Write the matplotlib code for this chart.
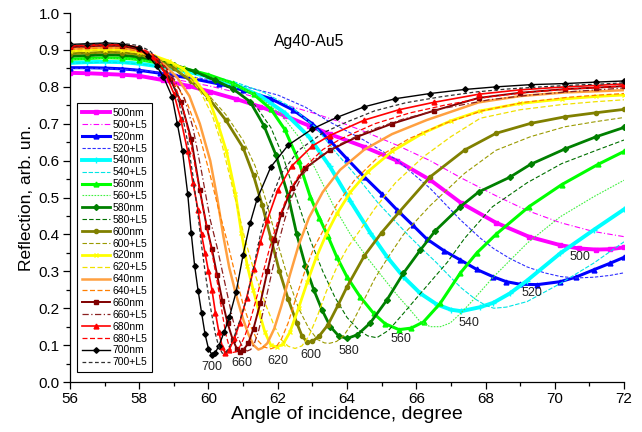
import matplotlib
matplotlib.use("Agg")
import matplotlib.pyplot as plt
from matplotlib.ticker import MultipleLocator, FormatStrFormatter

plt.rcParams['font.family'] = ['Liberation Sans', 'DejaVu Sans']

# ---------------- data ----------------
a500 = [56.0, 56.5, 57.0, 57.5, 58.0, 58.7, 59.4, 60.05, 60.8, 61.5, 62.2, 62.9, 63.5, 64.48, 65.44, 66.4, 67.3, 68.3, 69.25, 70.16, 70.7, 71.2, 71.6, 72.0]
r500 = [0.838, 0.837, 0.835, 0.833, 0.830, 0.818, 0.803, 0.787, 0.767, 0.746, 0.722, 0.695, 0.672, 0.638, 0.600, 0.548, 0.485, 0.432, 0.394, 0.371, 0.362, 0.359, 0.360, 0.365]
a500L = [56.0, 57.0, 58.0, 59.0, 60.0, 61.0, 62.0, 63.0, 63.7, 64.48, 65.44, 66.4, 67.3, 68.3, 69.2, 70.16, 71.12, 72.0]
r500L = [0.837, 0.835, 0.831, 0.821, 0.803, 0.781, 0.757, 0.730, 0.708, 0.680, 0.642, 0.600, 0.553, 0.505, 0.465, 0.432, 0.408, 0.394]

a520 = [56.0, 56.5, 57.0, 57.5, 58.0, 58.6, 59.5, 60.3, 61.0, 61.8, 62.45, 63.0, 63.5, 64.0, 64.5, 65.0, 65.45, 65.9, 66.3, 66.8, 67.27, 67.75, 68.23, 68.6, 69.0, 69.5, 70.16, 70.6, 71.12, 71.6, 72.0]
r520 = [0.852, 0.852, 0.851, 0.849, 0.845, 0.837, 0.823, 0.808, 0.791, 0.768, 0.737, 0.700, 0.655, 0.605, 0.556, 0.510, 0.466, 0.425, 0.388, 0.356, 0.331, 0.305, 0.285, 0.272, 0.265, 0.264, 0.272, 0.284, 0.304, 0.322, 0.338]
a520L = [56.0, 57.0, 58.0, 59.0, 60.0, 61.0, 62.0, 62.8, 63.5, 64.48, 65.44, 66.4, 67.27, 67.85, 68.23, 68.7, 69.2, 69.7, 70.16, 70.6, 71.12, 71.6, 72.0]
r520L = [0.850, 0.850, 0.845, 0.835, 0.820, 0.802, 0.778, 0.745, 0.705, 0.656, 0.602, 0.525, 0.440, 0.390, 0.362, 0.335, 0.312, 0.296, 0.286, 0.282, 0.284, 0.289, 0.296]

a540 = [56.0, 56.5, 57.0, 57.5, 58.0, 58.6, 59.3, 60.0, 60.8, 61.5, 62.2, 62.9, 63.5, 64.1, 64.67, 65.15, 65.63, 66.12, 66.6, 67.0, 67.3, 67.85, 68.23, 68.7, 69.2, 70.16, 71.12, 72.0]
r540 = [0.865, 0.867, 0.868, 0.867, 0.863, 0.855, 0.843, 0.828, 0.805, 0.775, 0.730, 0.665, 0.585, 0.490, 0.405, 0.340, 0.285, 0.240, 0.210, 0.196, 0.192, 0.203, 0.215, 0.240, 0.275, 0.349, 0.412, 0.468]
a540L = [56.0, 57.0, 57.5, 58.0, 58.6, 59.3, 60.0, 60.8, 61.6, 62.4, 63.1, 63.7, 64.3, 64.9, 65.4, 65.8, 66.2, 66.6, 67.0, 67.3, 67.7, 68.0, 68.24, 68.6, 69.2, 70.16, 71.12, 72.0]
r540L = [0.864, 0.867, 0.866, 0.862, 0.855, 0.845, 0.832, 0.812, 0.785, 0.745, 0.690, 0.620, 0.555, 0.485, 0.435, 0.395, 0.358, 0.322, 0.283, 0.255, 0.225, 0.208, 0.200, 0.203, 0.218, 0.267, 0.322, 0.380]

a560 = [56.0, 56.5, 57.0, 57.5, 58.0, 58.6, 59.3, 60.0, 60.7, 61.3, 61.8, 62.2, 62.6, 62.94, 63.2, 63.45, 63.7, 64.0, 64.38, 64.77, 65.1, 65.5, 65.85, 66.21, 66.69, 67.27, 67.75, 68.3, 69.25, 70.2, 71.25, 72.0]
r560 = [0.875, 0.877, 0.879, 0.878, 0.874, 0.864, 0.850, 0.833, 0.810, 0.780, 0.740, 0.685, 0.600, 0.502, 0.445, 0.395, 0.340, 0.285, 0.231, 0.186, 0.158, 0.142, 0.146, 0.163, 0.213, 0.295, 0.350, 0.400, 0.475, 0.535, 0.590, 0.625]
a560L = [56.0, 57.0, 57.5, 58.0, 58.6, 59.3, 60.0, 60.8, 61.5, 62.1, 62.6, 63.1, 63.6, 64.1, 64.6, 65.15, 65.5, 65.83, 66.1, 66.4, 66.7, 66.98, 67.27, 67.6, 68.23, 69.2, 70.16, 71.12, 72.0]
r560L = [0.874, 0.878, 0.877, 0.873, 0.863, 0.848, 0.830, 0.805, 0.770, 0.725, 0.665, 0.575, 0.480, 0.400, 0.335, 0.270, 0.230, 0.195, 0.165, 0.150, 0.150, 0.160, 0.185, 0.218, 0.285, 0.376, 0.448, 0.502, 0.547]

a580 = [56.0, 56.5, 57.0, 57.5, 58.0, 58.5, 59.0, 59.6, 60.2, 60.7, 61.2, 61.6, 61.95, 62.3, 62.55, 62.8, 63.04, 63.28, 63.52, 63.76, 64.0, 64.3, 64.67, 65.15, 65.63, 66.12, 66.55, 67.27, 67.8, 68.7, 69.3, 70.3, 71.2, 72.0]
r580 = [0.883, 0.885, 0.887, 0.886, 0.881, 0.872, 0.860, 0.842, 0.818, 0.795, 0.760, 0.695, 0.615, 0.505, 0.400, 0.315, 0.250, 0.195, 0.150, 0.125, 0.118, 0.128, 0.160, 0.222, 0.295, 0.358, 0.410, 0.475, 0.515, 0.555, 0.590, 0.632, 0.665, 0.690]
a580L = [56.0, 57.0, 57.5, 58.0, 58.5, 59.0, 59.6, 60.2, 60.8, 61.35, 61.8, 62.15, 62.5, 62.94, 63.3, 63.65, 64.0, 64.35, 64.6, 64.86, 65.2, 65.63, 66.12, 66.9, 67.4, 68.2, 69.2, 70.2, 71.2, 72.0]
r580L = [0.882, 0.886, 0.885, 0.880, 0.871, 0.859, 0.840, 0.815, 0.788, 0.750, 0.690, 0.612, 0.510, 0.385, 0.300, 0.230, 0.175, 0.140, 0.125, 0.120, 0.140, 0.186, 0.240, 0.325, 0.390, 0.475, 0.540, 0.592, 0.628, 0.656]

a600 = [56.0, 56.5, 57.0, 57.5, 58.0, 58.5, 59.0, 59.5, 60.0, 60.5, 61.0, 61.3, 61.55, 61.8, 62.05, 62.3, 62.55, 62.7, 62.85, 63.0, 63.2, 63.45, 63.75, 64.0, 64.5, 65.0, 65.5, 66.4, 67.4, 68.3, 69.3, 70.3, 71.2, 72.0]
r600 = [0.890, 0.892, 0.894, 0.893, 0.888, 0.874, 0.850, 0.815, 0.770, 0.710, 0.635, 0.560, 0.480, 0.390, 0.300, 0.225, 0.160, 0.125, 0.108, 0.110, 0.125, 0.155, 0.210, 0.258, 0.342, 0.405, 0.460, 0.556, 0.629, 0.674, 0.701, 0.719, 0.730, 0.739]
a600L = [56.0, 57.0, 57.5, 58.0, 58.5, 59.0, 59.5, 60.0, 60.5, 61.0, 61.35, 61.65, 61.97, 62.3, 62.6, 62.9, 63.15, 63.35, 63.5, 63.7, 63.9, 64.15, 64.45, 64.8, 65.2, 65.63, 66.4, 67.4, 68.3, 69.3, 70.3, 71.2, 72.0]
r600L = [0.889, 0.893, 0.892, 0.886, 0.872, 0.850, 0.818, 0.778, 0.725, 0.655, 0.585, 0.495, 0.385, 0.280, 0.200, 0.145, 0.115, 0.106, 0.105, 0.110, 0.125, 0.160, 0.215, 0.280, 0.340, 0.400, 0.478, 0.566, 0.628, 0.665, 0.692, 0.706, 0.717]

a620 = [56.0, 56.5, 57.0, 57.5, 58.0, 58.4, 58.85, 59.25, 59.6, 60.0, 60.27, 60.52, 60.78, 60.95, 61.12, 61.29, 61.46, 61.63, 61.8, 61.97, 62.15, 62.35, 62.6, 62.85, 63.1, 63.4, 63.7, 64.1, 64.6, 65.3, 66.2, 67.0, 67.85, 69.0, 70.2, 71.2, 72.0]
r620 = [0.897, 0.899, 0.901, 0.900, 0.894, 0.885, 0.870, 0.850, 0.820, 0.770, 0.700, 0.625, 0.510, 0.405, 0.315, 0.250, 0.190, 0.135, 0.100, 0.095, 0.102, 0.135, 0.200, 0.270, 0.335, 0.400, 0.455, 0.515, 0.570, 0.625, 0.675, 0.708, 0.735, 0.755, 0.767, 0.774, 0.778]
a620L = [56.0, 57.0, 57.5, 58.0, 58.5, 59.0, 59.4, 59.75, 60.1, 60.4, 60.7, 61.06, 61.35, 61.65, 61.9, 62.1, 62.3, 62.5, 62.7, 62.9, 63.15, 63.4, 63.7, 64.0, 64.38, 64.8, 65.4, 66.2, 67.0, 67.85, 69.0, 70.2, 71.2, 72.0]
r620L = [0.896, 0.900, 0.899, 0.892, 0.880, 0.858, 0.830, 0.790, 0.725, 0.640, 0.525, 0.385, 0.290, 0.210, 0.152, 0.115, 0.097, 0.091, 0.098, 0.125, 0.180, 0.245, 0.310, 0.362, 0.412, 0.470, 0.540, 0.610, 0.665, 0.715, 0.738, 0.752, 0.760, 0.765]

a640 = [56.0, 56.5, 57.0, 57.5, 58.0, 58.4, 58.75, 59.1, 59.45, 59.75, 60.05, 60.25, 60.43, 60.6, 60.8, 61.0, 61.15, 61.3, 61.44, 61.55, 61.7, 61.9, 62.1, 62.35, 62.6, 62.9, 63.3, 63.8, 64.5, 65.3, 66.3, 67.8, 69.0, 70.3, 71.2, 72.0]
r640 = [0.903, 0.905, 0.907, 0.906, 0.898, 0.882, 0.858, 0.825, 0.775, 0.700, 0.600, 0.500, 0.395, 0.310, 0.235, 0.170, 0.130, 0.100, 0.088, 0.092, 0.105, 0.145, 0.205, 0.290, 0.370, 0.445, 0.515, 0.575, 0.630, 0.672, 0.710, 0.758, 0.775, 0.785, 0.788, 0.791]
a640L = [56.0, 57.0, 57.5, 58.0, 58.5, 59.0, 59.4, 59.75, 60.05, 60.3, 60.53, 60.75, 61.0, 61.2, 61.4, 61.6, 61.8, 61.95, 62.1, 62.3, 62.55, 62.8, 63.05, 63.32, 63.7, 64.2, 64.9, 65.8, 66.8, 67.9, 69.1, 70.4, 71.3, 72.0]
r640L = [0.902, 0.906, 0.905, 0.896, 0.870, 0.818, 0.752, 0.665, 0.560, 0.465, 0.385, 0.300, 0.210, 0.155, 0.115, 0.095, 0.090, 0.095, 0.115, 0.160, 0.235, 0.305, 0.365, 0.412, 0.480, 0.545, 0.610, 0.660, 0.700, 0.735, 0.758, 0.772, 0.778, 0.782]

a660 = [56.0, 56.5, 57.0, 57.5, 58.0, 58.5, 58.9, 59.2, 59.5, 59.75, 59.95, 60.1, 60.25, 60.4, 60.55, 60.7, 60.82, 60.91, 61.0, 61.15, 61.3, 61.5, 61.7, 61.9, 62.1, 62.4, 62.8, 63.5, 64.3, 65.3, 66.5, 67.8, 69.0, 70.3, 71.2, 72.0]
r660 = [0.908, 0.910, 0.912, 0.911, 0.902, 0.870, 0.820, 0.760, 0.660, 0.520, 0.420, 0.360, 0.290, 0.220, 0.160, 0.115, 0.090, 0.082, 0.086, 0.105, 0.145, 0.215, 0.300, 0.385, 0.455, 0.525, 0.580, 0.628, 0.665, 0.700, 0.735, 0.770, 0.784, 0.794, 0.798, 0.802]
a660L = [56.0, 57.0, 57.5, 58.0, 58.5, 58.9, 59.3, 59.55, 59.8, 60.05, 60.25, 60.4, 60.55, 60.7, 60.85, 61.0, 61.12, 61.22, 61.32, 61.45, 61.6, 61.8, 62.0, 62.2, 62.4, 62.7, 63.1, 63.8, 64.6, 65.6, 66.8, 68.1, 69.3, 70.6, 71.4, 72.0]
r660L = [0.907, 0.911, 0.910, 0.905, 0.882, 0.838, 0.770, 0.690, 0.570, 0.440, 0.365, 0.300, 0.235, 0.170, 0.120, 0.092, 0.084, 0.088, 0.103, 0.140, 0.200, 0.285, 0.370, 0.440, 0.500, 0.560, 0.605, 0.645, 0.680, 0.712, 0.742, 0.765, 0.778, 0.788, 0.793, 0.797]

a680 = [56.0, 56.5, 57.0, 57.5, 58.0, 58.4, 58.75, 59.0, 59.2, 59.4, 59.55, 59.7, 59.8, 59.9, 60.0, 60.1, 60.2, 60.3, 60.4, 60.48, 60.6, 60.75, 60.9, 61.1, 61.3, 61.5, 61.7, 62.0, 62.4, 63.0, 63.5, 64.5, 65.5, 66.5, 67.8, 69.0, 70.3, 71.2, 72.0]
r680 = [0.912, 0.914, 0.916, 0.915, 0.906, 0.880, 0.837, 0.782, 0.712, 0.625, 0.540, 0.466, 0.400, 0.350, 0.300, 0.250, 0.188, 0.135, 0.095, 0.079, 0.088, 0.118, 0.160, 0.228, 0.305, 0.380, 0.440, 0.520, 0.585, 0.640, 0.668, 0.710, 0.738, 0.758, 0.780, 0.792, 0.800, 0.804, 0.808]
a680L = [56.0, 57.0, 57.5, 58.0, 58.4, 58.75, 59.05, 59.3, 59.5, 59.7, 59.85, 60.0, 60.1, 60.2, 60.3, 60.4, 60.5, 60.6, 60.7, 60.8, 60.9, 61.05, 61.2, 61.4, 61.6, 61.8, 62.0, 62.3, 62.7, 63.3, 63.8, 64.8, 65.8, 66.8, 68.1, 69.3, 70.6, 71.4, 72.0]
r680L = [0.911, 0.914, 0.914, 0.908, 0.888, 0.853, 0.800, 0.730, 0.640, 0.545, 0.470, 0.400, 0.350, 0.300, 0.245, 0.185, 0.130, 0.095, 0.080, 0.082, 0.095, 0.125, 0.165, 0.232, 0.305, 0.375, 0.435, 0.510, 0.575, 0.630, 0.658, 0.700, 0.729, 0.750, 0.773, 0.786, 0.795, 0.799, 0.803]

a700 = [56.0, 56.5, 57.0, 57.5, 58.0, 58.25, 58.5, 58.7, 58.95, 59.1, 59.25, 59.4, 59.5, 59.6, 59.7, 59.8, 59.9, 60.0, 60.1, 60.2, 60.3, 60.45, 60.6, 60.8, 61.0, 61.2, 61.4, 61.8, 62.3, 63.0, 63.7, 64.5, 65.4, 66.4, 67.4, 68.3, 69.3, 70.3, 71.2, 72.0]
r700 = [0.915, 0.917, 0.919, 0.917, 0.905, 0.885, 0.857, 0.827, 0.773, 0.700, 0.625, 0.510, 0.405, 0.315, 0.248, 0.188, 0.130, 0.090, 0.074, 0.080, 0.098, 0.135, 0.175, 0.245, 0.345, 0.430, 0.495, 0.583, 0.642, 0.686, 0.717, 0.746, 0.768, 0.782, 0.793, 0.800, 0.806, 0.809, 0.813, 0.816]
a700L = [56.0, 57.0, 57.5, 58.0, 58.3, 58.55, 58.8, 59.05, 59.25, 59.4, 59.55, 59.7, 59.8, 59.9, 60.0, 60.1, 60.2, 60.3, 60.4, 60.5, 60.6, 60.75, 60.9, 61.1, 61.3, 61.5, 61.7, 62.1, 62.6, 63.3, 64.0, 64.8, 65.7, 66.7, 67.7, 68.6, 69.6, 70.6, 71.4, 72.0]
r700L = [0.914, 0.917, 0.918, 0.912, 0.898, 0.875, 0.840, 0.790, 0.720, 0.650, 0.560, 0.450, 0.370, 0.300, 0.235, 0.180, 0.130, 0.095, 0.078, 0.080, 0.095, 0.125, 0.165, 0.225, 0.310, 0.400, 0.470, 0.565, 0.628, 0.675, 0.705, 0.735, 0.757, 0.773, 0.786, 0.794, 0.800, 0.805, 0.808, 0.811]

series_labels = ["500nm", "500+L5", "520nm", "520+L5", "540nm", "540+L5", "560nm", "560+L5",
                 "580nm", "580+L5", "600nm", "600+L5", "620nm", "620+L5", "640nm", "640+L5",
                 "660nm", "660+L5", "680nm", "680+L5", "700nm", "700+L5"]

min_labels = ["700", "660", "620", "600", "580", "560", "540", "520", "500"]
min_label_x = [60.10, 60.96, 62.01, 62.97, 64.06, 65.57, 67.53, 69.35, 70.74]
min_label_y = [0.041, 0.051, 0.057, 0.073, 0.085, 0.116, 0.160, 0.241, 0.338]

# ---------------- styles ----------------
data = [(a500, r500), (a500L, r500L), (a520, r520), (a520L, r520L), (a540, r540), (a540L, r540L),
        (a560, r560), (a560L, r560L), (a580, r580), (a580L, r580L), (a600, r600), (a600L, r600L),
        (a620, r620), (a620L, r620L), (a640, r640), (a640L, r640L), (a660, r660), (a660L, r660L),
        (a680, r680), (a680L, r680L), (a700, r700), (a700L, r700L)]

styles = [
    dict(color='#FF00FF', lw=2.8, marker='s', ms=3.0),
    dict(color='#FF00FF', lw=0.8, ls=(0, (5, 2, 1, 2))),
    dict(color='#0000FF', lw=2.2, marker='^', ms=3.5),
    dict(color='#3030FF', lw=0.8, ls=(0, (3, 1.5))),
    dict(color='#00FFFF', lw=2.8, marker='+', ms=4.0),
    dict(color='#00E5E5', lw=0.8, ls=(0, (4, 1.5))),
    dict(color='#00FF00', lw=2.2, marker='^', ms=3.5),
    dict(color='#40F040', lw=0.8, ls=(0, (1.5, 1.2))),
    dict(color='#008000', lw=2.0, marker='D', ms=3.0),
    dict(color='#007000', lw=0.8, ls=(0, (4, 2))),
    dict(color='#808000', lw=2.0, marker='o', ms=3.0),
    dict(color='#9A9A00', lw=0.8, ls=(0, (4, 2))),
    dict(color='#FFFF00', lw=2.0, marker='x', ms=3.0),
    dict(color='#F0E000', lw=0.9, ls=(0, (4, 2))),
    dict(color='#FFA040', lw=1.8),
    dict(color='#FF7F00', lw=0.9, ls=(0, (4, 2))),
    dict(color='#800000', lw=1.4, marker='s', ms=3.0),
    dict(color='#8B2020', lw=0.9, ls=(0, (5, 2, 1, 2))),
    dict(color='#FF0000', lw=1.2, marker='^', ms=3.5),
    dict(color='#FF0000', lw=0.9, ls=(0, (4, 2))),
    dict(color='#000000', lw=1.0, marker='D', ms=2.8),
    dict(color='#303030', lw=0.9, ls=(0, (3, 2))),
]

fig = plt.figure(figsize=(6.42, 4.32), dpi=100)
ax = fig.add_axes([0.109, 0.1157, 0.863, 0.854])

for (a, r), lab, st in zip(data, series_labels, styles):
    ax.plot(a, r, label=lab, **st)

for t, x, y in zip(min_labels, min_label_x, min_label_y):
    ax.text(x, y, t, ha='center', va='center', fontsize=9, color='#222222')

ax.text(62.9, 0.924, 'Ag40-Au5', ha='center', va='center', fontsize=11.3)

ax.set_xlim(56, 72)
ax.set_ylim(0.0, 1.0)
ax.xaxis.set_major_locator(MultipleLocator(2))
ax.xaxis.set_minor_locator(MultipleLocator(1))
ax.yaxis.set_major_locator(MultipleLocator(0.1))
ax.yaxis.set_minor_locator(MultipleLocator(0.05))
ax.yaxis.set_major_formatter(FormatStrFormatter('%.1f'))
ax.tick_params(which='major', length=5, width=0.9, labelsize=11, pad=2.5)
ax.tick_params(which='minor', length=3, width=0.9)
for s in ['top', 'right']:
    ax.spines[s].set_visible(False)
for s in ['left', 'bottom']:
    ax.spines[s].set_linewidth(0.9)

ax.set_xlabel('Angle of incidence, degree', fontsize=14, labelpad=0)
ax.set_ylabel('Reflection, arb. un.', fontsize=12.5, labelpad=3)

leg = ax.legend(loc='lower left', bbox_to_anchor=(0.0126, 0.027), borderaxespad=0,
                fontsize=7.5, handlelength=2.7, handletextpad=0.3, labelspacing=0.18,
                borderpad=0.45, fancybox=False, framealpha=1, edgecolor='black', numpoints=1)
leg.get_frame().set_linewidth(0.8)

fig.savefig('out.png', dpi=100)
